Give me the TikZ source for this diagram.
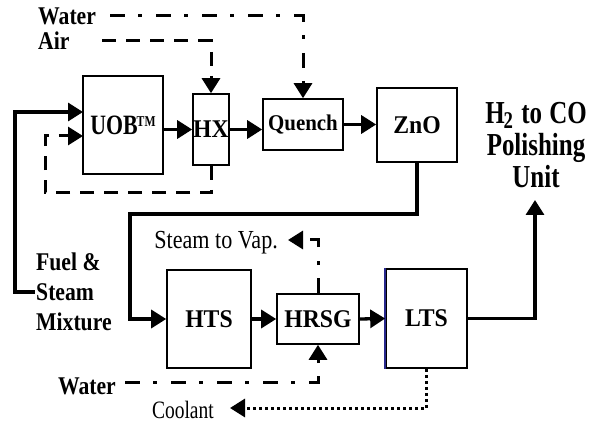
\documentclass[tikz,border=0pt]{standalone}
\usepackage{fontspec}
\setmainfont{Liberation Serif}
\newfontfamily\streamfont[FakeStretch=0.85]{Liberation Serif}
\newfontfamily\unitfont[FakeStretch=0.93]{Liberation Serif}
\newfontfamily\titlefont[FakeStretch=0.78]{Liberation Serif}
\usetikzlibrary{arrows.meta}
\definecolor{edgeblue}{RGB}{40,40,140}
\begin{document}
\begin{tikzpicture}[x=1pt,y=-1pt,
  box/.style={draw,line width=1.6pt,inner sep=0pt,font=\unitfont\bfseries\fontsize{25.5}{30}\selectfont},
  lab/.style={font=\streamfont\bfseries\fontsize{25.5}{30}\selectfont,inner sep=1pt},
  reglab/.style={font=\streamfont\fontsize{26}{30}\selectfont,inner sep=1pt},
  tip/.style={-{Triangle[length=15pt,width=18pt]}},
  flow/.style={line width=3.3pt,tip},
  airflow/.style={line width=3pt,dash pattern=on 14pt off 10pt,tip},
  waterflow/.style={line width=3pt,dash pattern=on 15pt off 13pt on 4pt off 14pt,tip},
  coolflow/.style={line width=3pt,dash pattern=on 3pt off 3pt,tip}
]
\useasboundingbox (0,0) rectangle (595,425);

% process units
\node[box,minimum width=80pt,minimum height=98pt,font=\titlefont\bfseries\fontsize{28}{30}\selectfont] (UOB) at (123,125) {UOB\kern-1pt\raisebox{8pt}{\fontsize{15}{15}\selectfont TM}};
\node[box,minimum width=36pt,minimum height=71pt] (HX) at (211,129.5) {HX};
\node[box,minimum width=80pt,minimum height=51pt,font=\unitfont\bfseries\fontsize{22.5}{26}\selectfont] (Quench) at (303,124.5) {Quench};
\node[box,minimum width=80pt,minimum height=74pt] (ZnO) at (417,125) {ZnO};
\node[box,minimum width=84pt,minimum height=98pt] (HTS) at (209,319) {HTS};
\node[box,minimum width=82pt,minimum height=50pt] (HRSG) at (318,319) {HRSG};
\node[box,minimum width=81pt,minimum height=99pt] (LTS) at (426.5,318.5) {LTS};
\draw[edgeblue,line width=1.6pt] (LTS.south west) -- (LTS.north west);

% stream labels
\node[lab,anchor=west] (water1) at (37,16) {Water};
\node[lab,anchor=west] (air) at (37,41) {Air};
\node[lab,anchor=west,align=left] (fuel) at (35,292) {Fuel \&\\Steam\\Mixture};
\node[lab,align=center,font=\titlefont\bfseries\fontsize{32}{32}\selectfont] (polish) at (536,145) {H\kern-1pt\raisebox{-5pt}[0pt][0pt]{\fontsize{24}{24}\selectfont 2}\hspace{2pt} to\hspace{1pt} CO\\Polishing\\Unit};
\node[reglab,anchor=east] (steam) at (279,243) {Steam to Vap.};
\node[lab,anchor=east] (water2) at (117,386) {Water};
\node[reglab,anchor=east,font=\titlefont\fontsize{25}{30}\selectfont] (coolant) at (215,410) {Coolant};

% bends and free ends
\coordinate (fuelbend) at (15,112);
\coordinate (uobin1) at (83,112);
\coordinate (recbend) at (45,193);
\coordinate (uobin2) at (83,136);
\coordinate (airsrc) at (102,41);
\coordinate (watersrc) at (110,16);
\coordinate (znobend) at (130,214);
\coordinate (steamend) at (288,240);
\coordinate (water2src) at (125,382);
\coordinate (coolend) at (230,408);
\coordinate (polishend) at (535,200);

% main gas path
\draw[flow] (fuel.west) -| (fuelbend) -- (uobin1);
\draw[flow] (UOB.east |- HX.west) -- (HX.west);
\draw[flow] (HX.east) -- (Quench.west |- HX.east);
\draw[flow] (Quench.east) -- (ZnO.west |- Quench.east);
\draw[flow] (ZnO.south) |- (znobend) |- (HTS.west);
\draw[flow] (HTS.east) -- (HRSG.west);
\draw[flow] (HRSG.east) -- (LTS.west);
\draw[flow] (LTS.east) -| (polishend);

% utility streams
\draw[airflow] (HX.south) |- (recbend) |- (uobin2);
\draw[airflow] (airsrc) -| (HX.north);
\draw[waterflow] (watersrc) -| (Quench.north);
\draw[waterflow] (HRSG.north) |- (steamend);
\draw[waterflow] (water2src) -| (HRSG.south);
\draw[coolflow] (LTS.south) |- (coolend);
\end{tikzpicture}
\end{document}
